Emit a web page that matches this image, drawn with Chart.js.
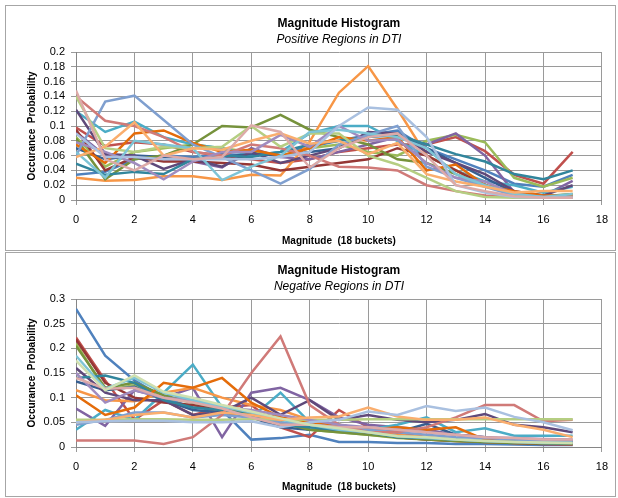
<!DOCTYPE html>
<html>
<head>
<meta charset="utf-8">
<script src="https://cdn.jsdelivr.net/npm/chart.js@4.4.0/dist/chart.umd.min.js"></script>
<style>
  html, body { margin: 0; padding: 0; background: #fff; }
  body { width: 618px; height: 498px; position: relative; overflow: hidden; }
  .frame { position: absolute; left: 5px; width: 611px; border: 1px solid #a6a6a6; box-sizing: border-box; }
  canvas { position: absolute; left: 5px; }
</style>
</head>
<body>
<div class="frame" style="top:5px;height:246px"></div>
<div class="frame" style="top:252px;height:245px"></div>
<canvas id="posChart" width="611" height="246" style="top:5px"></canvas>
<canvas id="negChart" width="611" height="245" style="top:252px"></canvas>
<script>
// buckets and axis ticks
const buckets = [0, 1, 2, 3, 4, 5, 6, 7, 8, 9, 10, 11, 12, 13, 14, 15, 16, 17];
const xTicks = [0, 2, 4, 6, 8, 10, 12, 14, 16, 18];
const posYTicks = [0, 0.02, 0.04, 0.06, 0.08, 0.1, 0.12, 0.14, 0.16, 0.18, 0.2];
const posYLabels = ['0', '0.02', '0.04', '0.06', '0.08', '0.1', '0.12', '0.14', '0.16', '0.18', '0.2'];
const negYTicks = [0, 0.05, 0.1, 0.15, 0.2, 0.25, 0.3];
const negYLabels = ['0', '0.05', '0.1', '0.15', '0.2', '0.25', '0.3'];

// positive regions
const posBlue       = [0.034,0.038,0.055,0.060,0.058,0.062,0.060,0.065,0.072,0.080,0.088,0.094,0.070,0.055,0.040,0.022,0.018,0.034];
const posRed        = [0.098,0.073,0.078,0.075,0.065,0.060,0.055,0.050,0.055,0.065,0.070,0.075,0.075,0.085,0.066,0.034,0.022,0.065];
const posGreen      = [0.085,0.045,0.065,0.070,0.075,0.070,0.065,0.060,0.070,0.075,0.065,0.060,0.080,0.088,0.078,0.030,0.018,0.030];
const posPurple     = [0.092,0.060,0.058,0.055,0.052,0.044,0.070,0.058,0.055,0.065,0.075,0.085,0.075,0.090,0.060,0.010,0.006,0.026];
const posAqua       = [0.120,0.092,0.106,0.085,0.075,0.070,0.060,0.065,0.090,0.100,0.100,0.080,0.060,0.040,0.025,0.020,0.010,0.018];
const posOrange     = [0.030,0.026,0.027,0.032,0.032,0.027,0.034,0.033,0.079,0.145,0.181,0.123,0.060,0.040,0.020,0.010,0.005,0.004];
const posDarkBlue   = [0.070,0.055,0.060,0.058,0.055,0.058,0.062,0.060,0.065,0.070,0.090,0.090,0.070,0.050,0.030,0.010,0.006,0.004];
const posDarkRed    = [0.095,0.040,0.058,0.052,0.052,0.050,0.048,0.040,0.045,0.050,0.055,0.070,0.060,0.040,0.020,0.008,0.004,0.004];
const posDarkGreen  = [0.083,0.028,0.055,0.060,0.075,0.100,0.098,0.115,0.095,0.085,0.075,0.055,0.050,0.035,0.020,0.010,0.005,0.008];
const posDarkPurple = [0.122,0.062,0.060,0.042,0.055,0.045,0.065,0.050,0.060,0.070,0.092,0.090,0.065,0.050,0.035,0.012,0.006,0.020];
const posDarkAqua   = [0.049,0.034,0.038,0.035,0.055,0.060,0.058,0.065,0.075,0.080,0.085,0.088,0.075,0.062,0.052,0.035,0.028,0.040];
const posDarkOrange = [0.075,0.050,0.090,0.094,0.077,0.065,0.068,0.060,0.070,0.085,0.080,0.085,0.040,0.048,0.020,0.012,0.006,0.006];
const posLightBlue  = [0.060,0.133,0.141,0.108,0.075,0.058,0.040,0.022,0.042,0.075,0.088,0.100,0.045,0.030,0.018,0.006,0.004,0.004];
const posLightRed   = [0.140,0.107,0.100,0.085,0.065,0.060,0.075,0.070,0.060,0.045,0.044,0.040,0.020,0.012,0.006,0.004,0.003,0.003];
const posLightGreen = [0.140,0.070,0.065,0.072,0.070,0.072,0.100,0.072,0.090,0.090,0.060,0.048,0.030,0.012,0.004,0.003,0.003,0.003];
const posLightPurple= [0.078,0.065,0.050,0.028,0.052,0.065,0.065,0.088,0.072,0.100,0.080,0.082,0.050,0.030,0.025,0.008,0.004,0.003];
const posLightAqua  = [0.065,0.030,0.080,0.075,0.070,0.027,0.045,0.060,0.092,0.095,0.090,0.085,0.070,0.035,0.020,0.008,0.004,0.008];
const posLightOrange= [0.058,0.072,0.105,0.060,0.070,0.068,0.080,0.090,0.076,0.080,0.062,0.077,0.035,0.025,0.018,0.010,0.012,0.012];
const posPaleBlue   = [0.090,0.058,0.058,0.055,0.055,0.055,0.055,0.058,0.065,0.100,0.125,0.122,0.085,0.020,0.010,0.004,0.003,0.003];
const posPink       = [0.148,0.055,0.040,0.060,0.055,0.058,0.101,0.092,0.044,0.070,0.085,0.090,0.060,0.020,0.012,0.005,0.003,0.003];

// negative regions
const negBlue       = [0.280,0.185,0.135,0.100,0.080,0.075,0.015,0.018,0.025,0.010,0.010,0.008,0.008,0.006,0.006,0.005,0.004,0.004];
const negRed        = [0.222,0.135,0.055,0.095,0.065,0.080,0.085,0.040,0.020,0.075,0.040,0.030,0.020,0.015,0.010,0.008,0.006,0.005];
const negGreen      = [0.210,0.115,0.125,0.100,0.090,0.075,0.065,0.050,0.035,0.030,0.025,0.018,0.015,0.012,0.010,0.008,0.008,0.007];
const negPurple     = [0.078,0.043,0.115,0.100,0.120,0.020,0.110,0.120,0.095,0.060,0.045,0.040,0.035,0.025,0.020,0.015,0.012,0.012];
const negAqua       = [0.035,0.075,0.055,0.110,0.167,0.080,0.060,0.110,0.050,0.045,0.035,0.045,0.060,0.030,0.038,0.023,0.023,0.023];
const negOrange     = [0.115,0.095,0.093,0.110,0.120,0.100,0.085,0.075,0.055,0.040,0.030,0.025,0.020,0.015,0.012,0.010,0.008,0.008];
const negDarkBlue   = [0.133,0.115,0.122,0.095,0.075,0.070,0.060,0.040,0.035,0.035,0.035,0.030,0.047,0.025,0.020,0.015,0.012,0.010];
const negDarkRed    = [0.218,0.130,0.100,0.090,0.085,0.075,0.070,0.060,0.045,0.035,0.028,0.020,0.015,0.012,0.010,0.008,0.006,0.006];
const negDarkGreen  = [0.205,0.120,0.130,0.105,0.090,0.078,0.065,0.050,0.035,0.030,0.025,0.020,0.015,0.012,0.010,0.008,0.007,0.006];
const negDarkPurple = [0.160,0.110,0.095,0.095,0.065,0.070,0.100,0.065,0.095,0.055,0.065,0.055,0.050,0.055,0.067,0.045,0.040,0.030];
const negDarkAqua   = [0.140,0.145,0.130,0.095,0.080,0.075,0.065,0.045,0.040,0.035,0.030,0.020,0.018,0.015,0.012,0.010,0.008,0.008];
const negDarkOrange = [0.105,0.065,0.080,0.130,0.120,0.140,0.090,0.060,0.050,0.045,0.035,0.040,0.035,0.040,0.015,0.010,0.010,0.008];
const negLightBlue  = [0.045,0.055,0.070,0.070,0.060,0.065,0.060,0.050,0.045,0.040,0.035,0.030,0.025,0.020,0.018,0.015,0.012,0.010];
const negLightRed   = [0.013,0.013,0.013,0.006,0.020,0.065,0.150,0.224,0.085,0.045,0.030,0.030,0.040,0.060,0.085,0.085,0.052,0.055];
const negLightGreen = [0.055,0.055,0.056,0.056,0.055,0.055,0.056,0.056,0.055,0.055,0.056,0.056,0.056,0.056,0.056,0.056,0.056,0.056];
const negLightPurple= [0.150,0.090,0.115,0.100,0.095,0.080,0.075,0.065,0.055,0.045,0.040,0.035,0.030,0.025,0.020,0.018,0.016,0.015];
const negLightAqua  = [0.185,0.118,0.140,0.110,0.095,0.082,0.070,0.055,0.045,0.035,0.030,0.022,0.018,0.015,0.012,0.010,0.008,0.008];
const negLightOrange= [0.050,0.055,0.065,0.070,0.060,0.070,0.065,0.055,0.060,0.062,0.080,0.062,0.055,0.055,0.060,0.045,0.035,0.020];
const negPaleBlue   = [0.050,0.052,0.053,0.053,0.050,0.050,0.052,0.040,0.050,0.055,0.072,0.065,0.083,0.073,0.080,0.061,0.050,0.034];
const negPink       = [0.140,0.118,0.120,0.100,0.090,0.078,0.060,0.045,0.045,0.040,0.040,0.035,0.030,0.025,0.020,0.018,0.015,0.015];
const negPaleGreen  = [0.175,0.115,0.145,0.112,0.100,0.085,0.072,0.058,0.045,0.038,0.030,0.022,0.020,0.015,0.012,0.010,0.009,0.008];

const positiveSeries = [posBlue, posRed, posGreen, posPurple, posAqua, posOrange, posDarkBlue, posDarkRed,
  posDarkGreen, posDarkPurple, posDarkAqua, posDarkOrange, posLightBlue, posLightRed, posLightGreen,
  posLightPurple, posLightAqua, posLightOrange, posPaleBlue, posPink];
const negativeSeries = [negBlue, negRed, negGreen, negPurple, negAqua, negOrange, negDarkBlue, negDarkRed,
  negDarkGreen, negDarkPurple, negDarkAqua, negDarkOrange, negLightBlue, negLightRed, negLightGreen,
  negLightPurple, negLightAqua, negLightOrange, negPaleBlue, negPink, negPaleGreen];

// office style series colours
const palette = ['#4F81BD', '#C0504D', '#9BBB59', '#8064A2', '#4BACC6', '#F79646',
  '#365F91', '#953735', '#76923C', '#5F497A', '#31859C', '#E46C0A',
  '#7F9FCF', '#D07A78', '#B5CE82', '#A08CBF', '#7EC4D6', '#FAAE6E',
  '#A9C0E0', '#DDAAA8', '#CFE0B0'];

const FONT = "'Liberation Sans', Arial, sans-serif";
const PLOT_BOTTOM = 195;

function makeChart(id, height, subtitle, series, yMax, yTicks, yLabels) {
  const ctx = document.getElementById(id);
  return new Chart(ctx, {
    type: 'line',
    data: {
      datasets: series.map((values, i) => ({
        data: values.map((v, k) => ({ x: buckets[k], y: v })),
        borderColor: palette[i],
        backgroundColor: palette[i],
        borderWidth: 2.5,
        pointRadius: 0,
        tension: 0,
        fill: false,
        order: series.length - i
      }))
    },
    options: {
      responsive: false,
      animation: false,
      events: [],
      layout: { padding: { left: 0, right: 10, top: 0, bottom: 0 } },
      plugins: {
        legend: { display: false },
        tooltip: { enabled: false },
        title: {
          display: true, text: 'Magnitude Histogram', fullSize: false, color: '#000',
          font: { family: FONT, size: 12, weight: 'bold' },
          padding: { top: 11, bottom: 0 }
        },
        subtitle: {
          display: true, text: subtitle, fullSize: false, color: '#000',
          font: { family: FONT, size: 12, style: 'italic' },
          padding: { top: 2.4, bottom: 4.8 }
        }
      },
      scales: {
        x: {
          type: 'linear', min: 0, max: 18,
          afterBuildTicks: s => { s.ticks = xTicks.map(v => ({ value: v })); },
          afterFit: s => { s.height = height - PLOT_BOTTOM; },
          grid: { color: '#9a9a9a', lineWidth: 1, tickLength: 5 },
          border: { color: '#868686' },
          ticks: { color: '#000', autoSkip: false, maxRotation: 0, padding: 8,
            font: { family: FONT, size: 11 } },
          title: { display: true, text: 'Magnitude  (18 buckets)', color: '#000',
            font: { family: FONT, size: 10, weight: 'bold' }, padding: { top: 0, bottom: 4 } }
        },
        y: {
          min: 0, max: yMax,
          afterBuildTicks: s => { s.ticks = yTicks.map(v => ({ value: v })); },
          afterFit: s => { s.width = 71; },
          grid: { color: '#9a9a9a', lineWidth: 1, tickLength: 5 },
          border: { color: '#868686' },
          ticks: { color: '#000', autoSkip: false, padding: 6,
            font: { family: FONT, size: 11 },
            callback: (v, i) => yLabels[i] },
          title: { display: true, text: 'Occurance  Probability', color: '#000',
            font: { family: FONT, size: 10, weight: 'bold' }, padding: { top: 21, bottom: 0 } }
        }
      }
    }
  });
}

makeChart('posChart', 246, 'Positive Regions in DTI', positiveSeries, 0.2, posYTicks, posYLabels);
makeChart('negChart', 245, 'Negative Regions in DTI', negativeSeries, 0.3, negYTicks, negYLabels);
</script>
</body>
</html>
